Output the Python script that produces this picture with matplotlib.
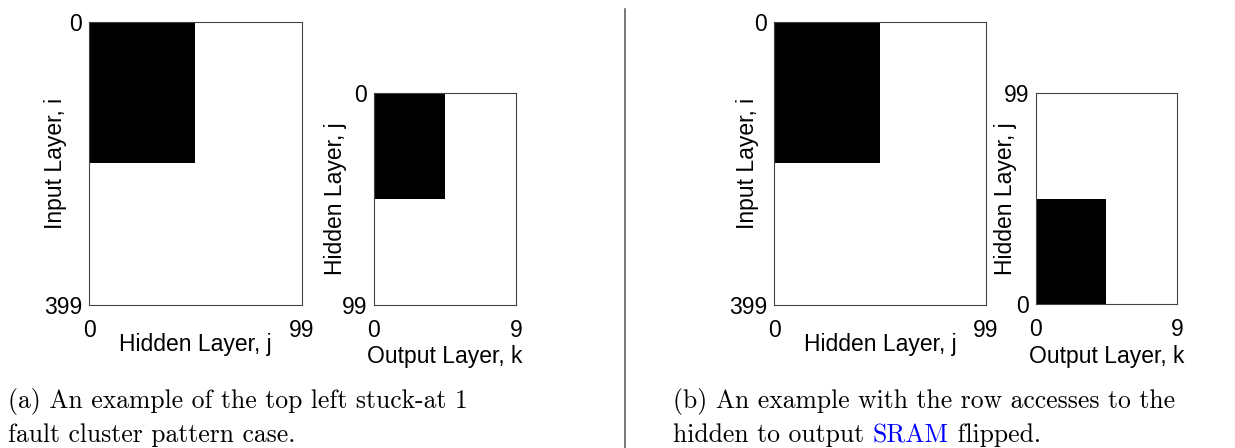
import numpy as np
import matplotlib
matplotlib.use("Agg")
import matplotlib.pyplot as plt
from matplotlib.lines import Line2D

# ---- data ----
n_input = 400
n_hidden = 100
n_output = 10
# stuck-at-1 fault cluster (rows range, cols range)
ih_fault_rows = [0, 200]
ih_fault_cols = [0, 50]
ho_fault_rows = [0, 50]
ho_fault_cols = [0, 5]

ih_xticklabels = ["0", "99"]
ih_yticklabels = ["0", "399"]
ho_xticklabels = ["0", "9"]
ho_yticklabels = ["0", "99"]

caption_a = ["(a) An example of the top left stuck-at 1",
             "fault cluster pattern case."]
caption_b_line1 = "(b) An example with the row accesses to the"
caption_b_line2 = ["hidden to output ", "SRAM", " flipped."]

# ---- build matrices ----
ih = np.zeros((n_input, n_hidden))
ih[ih_fault_rows[0]:ih_fault_rows[1], ih_fault_cols[0]:ih_fault_cols[1]] = 1
ho = np.zeros((n_hidden, n_output))
ho[ho_fault_rows[0]:ho_fault_rows[1], ho_fault_cols[0]:ho_fault_cols[1]] = 1

W, H = 1235, 448
fig = plt.figure(figsize=(W / 100, H / 100), dpi=100)

sans = "Liberation Sans"
fs = 16.5


def px_axes(x0, y0, x1, y1):
    return fig.add_axes([x0 / W, 1 - y1 / H, (x1 - x0) / W, (y1 - y0) / H])


def style(ax, xlab, ylab, xt, xtl, yt, ytl, xlab_y, ylab_x):
    ax.set_xticks(xt)
    ax.set_xticklabels(xtl, fontfamily=sans, fontsize=fs)
    ax.set_yticks(yt)
    ax.set_yticklabels(ytl, fontfamily=sans, fontsize=fs)
    ax.tick_params(axis="y", length=0, pad=5)
    ax.tick_params(axis="x", length=0, pad=10)
    ax.set_xlabel(xlab, fontfamily=sans, fontsize=fs)
    ax.set_ylabel(ylab, fontfamily=sans, fontsize=fs)
    ax.xaxis.set_label_coords(0.5, xlab_y)
    ax.yaxis.label.set_verticalalignment("center")
    ax.yaxis.set_label_coords(ylab_x, 0.5)
    for s in ax.spines.values():
        s.set_color("#444444")
        s.set_linewidth(0.8)


def draw_ih(ax, ylab_x):
    ax.imshow(ih, cmap="gray_r", vmin=0, vmax=1, aspect="auto",
              interpolation="nearest", extent=(0, n_hidden, n_input, 0))
    style(ax, "Hidden Layer, j", "Input Layer, i",
          [0, n_hidden], ih_xticklabels, [0, n_input], ih_yticklabels,
          -0.099, ylab_x)


# (a)
ax1 = px_axes(89, 22, 302, 305)
draw_ih(ax1, -0.155)
ax2 = px_axes(374, 93, 516, 305)
ax2.imshow(ho, cmap="gray_r", vmin=0, vmax=1, aspect="auto",
           interpolation="nearest", extent=(0, n_output, n_hidden, 0))
style(ax2, "Output Layer, k", "Hidden Layer, j",
      [0, n_output], ho_xticklabels, [0, n_hidden], ho_yticklabels,
      -0.188, -0.268)

# (b)
ax3 = px_axes(774, 22, 986, 305)
draw_ih(ax3, -0.127)
ax4 = px_axes(1036, 93, 1177, 304)
ax4.imshow(ho, cmap="gray_r", vmin=0, vmax=1, aspect="auto",
           interpolation="nearest", origin="lower",
           extent=(0, n_output, 0, n_hidden))
style(ax4, "Output Layer, k", "Hidden Layer, j",
      [0, n_output], ho_xticklabels, [0, n_hidden], ho_yticklabels,
      -0.194, -0.213)

# separator
fig.add_artist(Line2D([625 / W, 625 / W], [0, 1 - 9 / H],
                      transform=fig.transFigure, color="#555555", lw=1.1))

# captions
serif = ["cmr10", "DejaVu Serif"]
cfs = 18.5
y1 = 1 - 408 / H
y2 = 1 - 442 / H
fig.text(8 / W, y1, caption_a[0], fontfamily=serif, fontsize=cfs, va="baseline")
fig.text(8 / W, y2, caption_a[1], fontfamily=serif, fontsize=cfs, va="baseline")
fig.text(673 / W, y1, caption_b_line1, fontfamily=serif, fontsize=cfs, va="baseline")

renderer = fig.canvas.get_renderer()
x = 673 / W
colors = ["black", "blue", "black"]
for part, c in zip(caption_b_line2, colors):
    t = fig.text(x, y2, part, fontfamily=serif, fontsize=cfs, va="baseline", color=c)
    bb = t.get_window_extent(renderer)
    x = bb.x1 / W

fig.savefig("out.png", dpi=100)
